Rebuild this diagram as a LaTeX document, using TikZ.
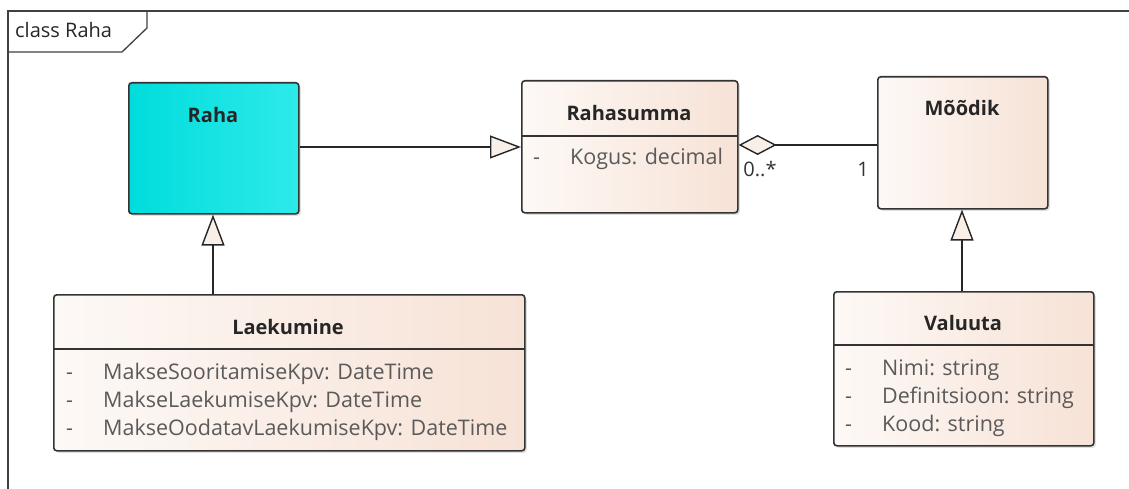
\documentclass[tikz,border=0pt]{standalone}
\usepackage{fontspec}
\setmainfont{Open Sans}
\usetikzlibrary{arrows.meta,shadows}
\definecolor{boxline}{HTML}{333333}
\definecolor{peachA}{HTML}{FDF9F6}
\definecolor{peachB}{HTML}{F7E2D6}
\definecolor{cyanA}{HTML}{00DCDC}
\definecolor{cyanB}{HTML}{2EEAEA}
\definecolor{attrgray}{HTML}{5A5A5A}
\definecolor{tipfill}{HTML}{F8F0E8}
\tikzset{
  cls/.style={draw=boxline, line width=1.6pt, rounded corners=3pt, anchor=north west,
    left color=peachA, right color=peachB, inner sep=0pt,
    drop shadow={shadow xshift=2pt, shadow yshift=-2pt, opacity=0.25, fill=gray}},
  clscyan/.style={cls, left color=cyanA, right color=cyanB},
  title/.style={font=\fontsize{20}{24}\selectfont\bfseries, text=black!85, inner sep=0pt},
  attr/.style={font=\fontsize{21.5}{25}\selectfont, text=attrgray, anchor=base west, inner sep=0pt},
  mult/.style={font=\fontsize{20}{24}\selectfont, text=black!80, inner sep=0pt},
  sep/.style={draw=boxline, line width=1.4pt},
  conn/.style={draw=black!85, line width=1.4pt},
  gen/.style={conn, -{Triangle[length=31pt,width=23pt,fill=tipfill]}},
  agg/.style={conn, {Diamond[length=38pt,width=20pt,fill=tipfill]}-},
}
\begin{document}
\begin{tikzpicture}[x=1pt,y=-1pt]
\useasboundingbox (0,0) rectangle (1129,489);
% frame
\draw[draw=black!75, line width=1.5pt] (8,495) -- (8,11) -- (1135,11);
\draw[draw=black!75, line width=1.3pt] (8,52) -- (122,52) -- (147,28) -- (147,11);
\node[anchor=base west, font=\fontsize{20}{24}\selectfont, text=black!85, inner sep=0pt] (frametitle) at (15,38) {class Raha};

% Raha
\node[clscyan, minimum width=170pt, minimum height=131pt] (raha) at (128,82) {};
\node[title] (rahaT) at (213,115) {Raha};

% Rahasumma
\node[cls, minimum width=216pt, minimum height=132pt] (summa) at (521,80) {};
\node[title] (summaT) at (629,113) {Rahasumma};
\coordinate (summaSepL) at (521,136);
\coordinate (summaSepR) at (737,136);
\draw[sep] (summaSepL) -- (summaSepR);
\node[attr] (summaDash) at (533,165) {-};
\node[attr] (summaA1) at (570,165) {Kogus: decimal};

% Moodik
\node[cls, minimum width=170pt, minimum height=132pt] (moodik) at (877,76) {};
\node[title] (moodikT) at (962,108) {Mõõdik};

% Laekumine
\node[cls, minimum width=471pt, minimum height=156pt] (laek) at (53,294) {};
\node[title] (laekT) at (288,327) {Laekumine};
\coordinate (laekSepL) at (53,349);
\coordinate (laekSepR) at (524,349);
\draw[sep] (laekSepL) -- (laekSepR);
\node[attr] (laekD1) at (66,379) {-};
\node[attr] (laekD2) at (66,407) {-};
\node[attr] (laekD3) at (66,435) {-};
\node[attr] (laekA1) at (103,379) {MakseSooritamiseKpv: DateTime};
\node[attr] (laekA2) at (103,407) {MakseLaekumiseKpv: DateTime};
\node[attr] (laekA3) at (103,435) {MakseOodatavLaekumiseKpv: DateTime};

% Valuuta
\node[cls, minimum width=260pt, minimum height=154pt] (valuuta) at (833,291) {};
\node[title] (valuutaT) at (963,323) {Valuuta};
\coordinate (valSepL) at (833,345);
\coordinate (valSepR) at (1093,345);
\draw[sep] (valSepL) -- (valSepR);
\node[attr] (valD1) at (845,375) {-};
\node[attr] (valD2) at (845,403) {-};
\node[attr] (valD3) at (845,431) {-};
\node[attr] (valA1) at (882,375) {Nimi: string};
\node[attr] (valA2) at (882,403) {Definitsioon: string};
\node[attr] (valA3) at (882,431) {Kood: string};

% connectors
\draw[gen] (raha.east |- 0,147) -- (summa.west |- 0,147);
\draw[agg] (summa.east |- 0,145) -- (moodik.west |- 0,145);
\draw[gen] (laek.north -| 213,0) -- (raha.south -| 213,0);
\draw[gen] (valuuta.north -| 962,0) -- (moodik.south -| 962,0);
\node[mult] (m1) at (760,169) {0..*};
\node[mult] (m2) at (863,169) {1};
\end{tikzpicture}
\end{document}
